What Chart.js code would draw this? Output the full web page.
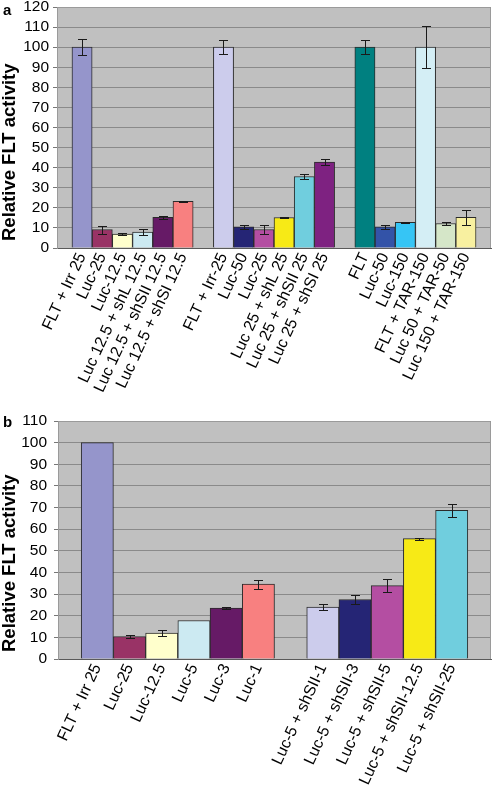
<!DOCTYPE html>
<html>
<head>
<meta charset="utf-8">
<script src="https://cdn.jsdelivr.net/npm/chart.js@4.4.0/dist/chart.umd.min.js"></script>
<style>
  html, body { margin: 0; padding: 0; background: #fff; }
  #wrap { position: relative; width: 493px; height: 785px; }
  canvas { position: absolute; left: 0; }
  #chart-a { top: 0; }
  #chart-b { top: 400px; }
  .panel-tag { position: absolute; font: bold 15px 'Liberation Sans', Arial, sans-serif; color: #000; }
</style>
</head>
<body>
<div id="wrap">
  <canvas id="chart-a" width="493" height="400"></canvas>
  <canvas id="chart-b" width="493" height="385"></canvas>
  <div class="panel-tag" style="left:3px;top:1px">a</div>
  <div class="panel-tag" style="left:3px;top:413px">b</div>
</div>
<script>
// panel a: three groups of six bars, '' = empty slot between groups
const LABELS_A = [
  'FLT + Irr 25', 'Luc-25', 'Luc-12.5', 'Luc 12.5 + shL 12.5', 'Luc 12.5 + shSII 12.5', 'Luc 12.5 + shSI 12.5',
  '',
  'FLT + Irr-25', 'Luc-50', 'Luc-25', 'Luc 25 + shL 25', 'Luc 25 + shSII 25', 'Luc 25 + shSI 25',
  '',
  'FLT', 'Luc-50', 'Luc-150', 'FLT + TAR-150', 'Luc 50 + TAR-50', 'Luc 150 + TAR-150',
];
const VALUES_A = [
  100, 9.2, 6.9, 7.9, 15.3, 23.2,
  null,
  100, 10.5, 9.2, 15.2, 35.6, 42.8,
  null,
  100, 10.5, 12.8, 100, 12.2, 15.3,
];
const ERRORS_A = [
  4, 2, 0.4, 1.4, 0.7, 0.3,
  null,
  3.5, 1, 2.2, 0.3, 1.4, 1.4,
  null,
  3.4, 1, 0.3, 10.6, 0.5, 3.7,
];

// panel b: six controls, gap, five shSII doses
const LABELS_B = [
  'FLT + Irr 25', 'Luc-25', 'Luc-12.5', 'Luc-5', 'Luc-3', 'Luc-1',
  '',
  'Luc-5 + shSII-1', 'Luc-5 + shSII-3', 'Luc-5 + shSII-5', 'Luc-5 + shSII-12.5', 'Luc-5 + shSII-25',
];
const VALUES_B = [100, 10.4, 12, 17.8, 23.5, 34.6, null, 24, 27.5, 33.9, 55.6, 68.7];
const ERRORS_B = [null, 0.8, 1.4, null, 0.5, 2.1, null, 1.5, 2.3, 3, 0.4, 3];

const COLORS_A = [
  '#9595cb', '#993366', '#ffffcc', '#cceaf2', '#661a66', '#f88080',
  null,
  '#ccccec', '#252575', '#b44ea2', '#f7ea16', '#70cede', '#7e2281',
  null,
  '#008080', '#3353a8', '#36c5f5', '#d4eef5', '#d5e6c8', '#f8f0a0',
];
const COLORS_B = [
  '#9595cb', '#993366', '#ffffcc', '#cceaf2', '#661a66', '#f88080',
  null,
  '#ccccec', '#252575', '#b44ea2', '#f7ea16', '#70cede',
];

const FONT = "'Liberation Sans', Arial, sans-serif";
const Y_TITLE = 'Relative FLT activity';

const plotFrame = {
  id: 'plotFrame',
  beforeDraw(chart) {
    const { ctx, chartArea: a } = chart;
    ctx.save();
    ctx.fillStyle = '#c0c0c0';
    ctx.fillRect(a.left, a.top, a.right - a.left, a.bottom - a.top);
    ctx.restore();
  },
  afterDraw(chart) {
    const { ctx, chartArea: a } = chart;
    ctx.save();
    ctx.strokeStyle = '#9a9a9a';
    ctx.lineWidth = 1;
    ctx.beginPath();
    ctx.moveTo(a.left, a.top + 0.5);
    ctx.lineTo(a.right - 0.5, a.top + 0.5);
    ctx.lineTo(a.right - 0.5, a.bottom);
    ctx.stroke();
    ctx.restore();
  },
};

// y title sits a little below the middle of the axis in the original
const yTitle = {
  id: 'yTitle',
  afterDraw(chart, args, opts) {
    const { ctx, chartArea: a } = chart;
    ctx.save();
    ctx.translate(opts.x, a.bottom - opts.lift);
    ctx.rotate(-Math.PI / 2);
    ctx.font = `bold 18.5px ${FONT}`;
    ctx.fillStyle = '#000';
    ctx.textAlign = 'left';
    ctx.textBaseline = 'middle';
    ctx.fillText(opts.text, 0, 0);
    ctx.restore();
  },
};

const errorBars = {
  id: 'errorBars',
  afterDatasetsDraw(chart, args, opts) {
    const { ctx } = chart;
    const y = chart.scales.y;
    const values = chart.data.datasets[0].data;
    ctx.save();
    ctx.strokeStyle = '#1a1a1a';
    ctx.lineWidth = 1;
    chart.getDatasetMeta(0).data.forEach((bar, i) => {
      const e = opts.errors[i];
      const v = values[i];
      if (e == null || v == null) return;
      const x = Math.round(bar.x) + 0.5;
      const top = Math.round(y.getPixelForValue(v + e)) + 0.5;
      const bot = Math.round(y.getPixelForValue(v - e)) + 0.5;
      ctx.beginPath();
      ctx.moveTo(x, top); ctx.lineTo(x, bot);
      ctx.moveTo(x - 4.5, top); ctx.lineTo(x + 4.5, top);
      ctx.moveTo(x - 4.5, bot); ctx.lineTo(x + 4.5, bot);
      ctx.stroke();
    });
    ctx.restore();
  },
};

function makeChart(id, labels, values, errors, colors, cfg) {
  return new Chart(document.getElementById(id), {
    type: 'bar',
    data: {
      labels,
      datasets: [{
        data: values,
        backgroundColor: colors,
        borderColor: '#2b2b2b',
        borderWidth: 1,
        categoryPercentage: 1,
        barPercentage: 1,
      }],
    },
    options: {
      responsive: false,
      animation: false,
      layout: { padding: { top: cfg.top, right: 2, left: 0, bottom: 0 } },
      plugins: {
        legend: { display: false },
        tooltip: { enabled: false },
        errorBars: { errors },
        yTitle: { text: Y_TITLE, x: 10, lift: 7 },
      },
      scales: {
        x: {
          type: 'category',
          offset: true,
          grid: { display: false, drawTicks: false },
          border: { color: '#5a5a5a' },
          ticks: {
            autoSkip: false,
            maxRotation: 65,
            minRotation: 65,
            padding: 2,
            color: '#000',
            font: { family: FONT, size: 16 },
          },
          // leave a part-slot of empty plot at both ends, as in the original
          afterBuildTicks: s => {
            s._startValue -= cfg.edge;
            s._valueRange += 2 * cfg.edge;
          },
          afterFit: s => {
            s.height = cfg.xHeight;
            s.paddingLeft = 0;
            s.paddingRight = 0;
          },
        },
        y: {
          min: 0,
          max: cfg.yMax,
          ticks: {
            stepSize: 10,
            autoSkip: false,
            padding: cfg.tickPad,
            color: '#000',
            font: { family: FONT, size: 15.5 },
          },
          grid: { color: '#8a8a8a', tickLength: 4, tickColor: '#777' },
          border: { color: '#9a9a9a' },
          afterFit: s => {
            s.width = cfg.yWidth;
            s.paddingTop = 0;
            s.paddingBottom = 0;
          },
        },
      },
    },
    plugins: [plotFrame, errorBars, yTitle],
  });
}

makeChart('chart-a', LABELS_A, VALUES_A, ERRORS_A, COLORS_A,
  { yMax: 120, top: 7, xHeight: 152, yWidth: 57, tickPad: 4, edge: 0.74 });
makeChart('chart-b', LABELS_B, VALUES_B, ERRORS_B, COLORS_B,
  { yMax: 110, top: 21, xHeight: 126, yWidth: 58, tickPad: 7, edge: 0.72 });
</script>
</body>
</html>
